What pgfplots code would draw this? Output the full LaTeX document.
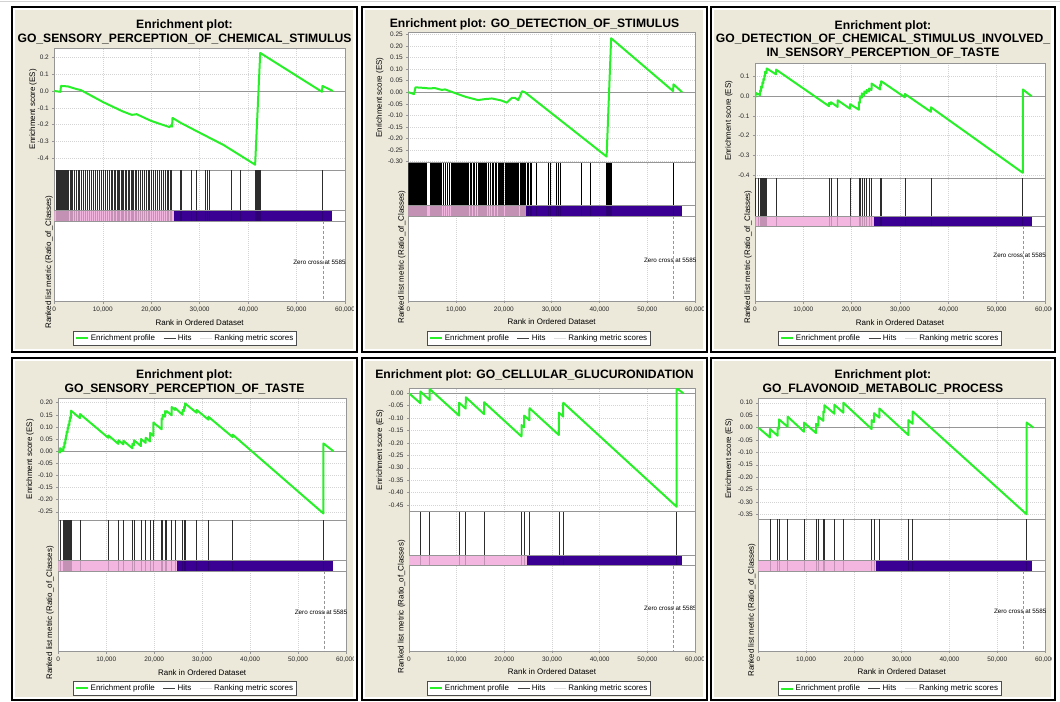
\documentclass[border=0pt]{standalone}
\usepackage{fontspec}
\setmainfont{Liberation Sans}
\usepackage{pgfplots}
\usepackage{pgfplotstable}
\pgfplotsset{compat=1.18}
\definecolor{beige}{RGB}{236,233,218}
\definecolor{esgreen}{RGB}{40,240,40}
\definecolor{barpink}{RGB}{243,182,224}
\definecolor{barpurple}{RGB}{58,0,148}
\definecolor{axgray}{RGB}{150,150,150}
\definecolor{gridgray}{RGB}{212,212,212}
\definecolor{hitgray}{RGB}{45,45,45}

\tikzset{zc/.style={anchor=west, font=\fontsize{6.3}{7}\selectfont, inner sep=0pt}}
\pgfplotsset{
  legend image code/.code={\draw[#1] (0bp,0bp) -- (12bp,0bp);},
  base/.style={
    scale only axis, anchor=south west,
    xmin=0, xmax=60000, scaled ticks=false,
    axis line style={axgray, line width=0.5bp},
    tick style={axgray, line width=0.4bp},
    major tick length=2bp, tick align=outside,
    xtick={0,10000,20000,30000,40000,50000,60000},
    tick pos=left,
    grid=major,
    major grid style={gridgray, line width=0.4bp, dash pattern=on 1bp off 1bp},
    tick label style={font=\fontsize{6.5}{7}\selectfont, text=black!85},
    label style={font=\fontsize{8}{9}\selectfont},
    axis background/.style={fill=white},
  },
  esaxis/.style={base, xticklabels={}, xtick style={draw=none}, ylabel={Enrichment score (ES)}},
  lowaxis/.style={base, ytick=\empty, ymajorgrids=false,
     xticklabels={0,{10,000},{20,000},{30,000},{40,000},{50,000},{60,000}},
     xlabel={Rank in Ordered Dataset},
     xlabel style={at={(axis description cs:0.5,0)}, anchor=center, yshift=-20.5bp},
     ylabel={Ranked list metric (Ratio\_of\_Classes)},
     legend style={draw=black!70, fill=white, font=\fontsize{8}{9}\selectfont, legend columns=3, inner sep=1.3bp, anchor=center,
        /tikz/every even column/.append style={column sep=6bp}},
     legend cell align=left,
  },
  esline/.style={esgreen, line width=2bp, mark=none, line join=round},
  hitline/.style={ycomb, hitgray, line width=0.6bp, mark=none, forget plot},
  hitbar/.style={ycomb, black, opacity=0.2, line width=0.6bp, mark=none, forget plot},
}

% hit positions (rank) for each gene set
\pgfplotstableread[row sep=\\]{r\\350\\600\\750\\900\\1050\\1200\\1350\\1500\\1650\\1800\\2000\\2200\\2400\\2550\\2650\\2750\\2900\\3200\\3500\\3800\\4100\\4500\\4900\\5200\\5600\\6000\\6400\\6800\\7300\\7600\\8000\\8400\\8900\\9300\\9700\\10200\\10600\\11000\\11400\\11700\\12000\\12300\\12600\\12900\\13200\\13500\\13800\\14000\\14300\\14600\\14900\\15200\\15500\\15800\\16100\\16400\\16700\\17000\\17300\\17700\\18100\\18500\\18900\\19300\\19700\\20100\\20500\\20900\\21300\\21700\\22100\\22500\\22900\\23300\\23600\\23900\\24100\\25940\\26280\\28350\\29380\\31100\\31580\\32000\\36600\\38320\\41450\\41550\\41650\\41750\\41850\\41950\\42050\\42150\\42250\\42350\\42450\\55300\\}\hitsA
\pgfplotstableread[row sep=\\]{r\\0\\200\\400\\600\\800\\1000\\1200\\1400\\1600\\1800\\2000\\2400\\2600\\2800\\3000\\3200\\3400\\3600\\3800\\4500\\4700\\4900\\5100\\5300\\5500\\5700\\5900\\6100\\6300\\6500\\6700\\6900\\7400\\7700\\8200\\8600\\9000\\9200\\9400\\9600\\9800\\10100\\10300\\10500\\10700\\10900\\11100\\11300\\11500\\11700\\11900\\12100\\12300\\12500\\12900\\13200\\13500\\13800\\14200\\14600\\14800\\15000\\15200\\15400\\15600\\15800\\16000\\16200\\16400\\16800\\17200\\17500\\17800\\18200\\18500\\18800\\19000\\19200\\19400\\19600\\19800\\20200\\20400\\20600\\20800\\21000\\21200\\21400\\21600\\21800\\22000\\22200\\22400\\22600\\22800\\23000\\23400\\23600\\23800\\24000\\24200\\24400\\24800\\25100\\25450\\25800\\26850\\29300\\29650\\31050\\31400\\31750\\36300\\38000\\41500\\41650\\41800\\41950\\42100\\42250\\42400\\42550\\55500\\}\hitsB
\pgfplotstableread[row sep=\\]{r\\140\\690\\1030\\1240\\1520\\1720\\1930\\2070\\2410\\4350\\15300\\15700\\17100\\19650\\21500\\21700\\22100\\22600\\23100\\23600\\24100\\25900\\26100\\31000\\36400\\55400\\}\hitsC
\pgfplotstableread[row sep=\\]{r\\350\\1040\\1250\\1460\\1600\\1740\\1950\\2090\\2290\\2430\\2640\\4520\\10430\\12520\\13560\\15440\\15780\\17240\\18220\\19120\\19820\\21550\\21760\\22250\\22600\\23640\\24340\\25930\\26210\\26420\\28850\\31290\\36360\\55280\\}\hitsD
\pgfplotstableread[row sep=\\]{r\\2380\\4340\\10500\\11900\\15750\\23600\\24150\\25270\\31430\\32350\\56150\\}\hitsE
\pgfplotstableread[row sep=\\]{r\\2440\\4050\\4330\\6140\\9560\\12070\\12560\\13600\\13810\\15910\\17790\\23720\\24210\\25330\\31400\\32310\\56160\\}\hitsF

\newcommand{\ttl}{\fontsize{12.2}{14}\selectfont\bfseries}

\begin{document}
\begin{tikzpicture}
\useasboundingbox (0bp,0bp) rectangle (1060bp,702bp);
\fill[white] (0bp,0bp) rectangle (1060bp,702bp);
\draw[gray!35, line width=0.8bp] (0bp,700.5bp) -- (1060bp,700.5bp);

% ---------------- Panel 1 ----------------
\begin{scope}
\clip (15bp,353bp) rectangle (353bp,692bp);
\fill[beige] (15bp,353bp) rectangle (353bp,692bp);
\node[anchor=base, font=\ttl] at (184.5bp,673bp) {Enrichment plot:};
\node[anchor=base, font=\ttl] at (184.5bp,659.5bp) {GO\_SENSORY\_PERCEPTION\_OF\_CHEMICAL\_STIMULUS};
\begin{axis}[esaxis, at={(54.3bp,532bp)}, width=290.7bp, height=121.7bp,
  ymin=-0.4695, ymax=0.2535,
  ytick={-0.4,-0.3,-0.2,-0.1,0,0.1,0.2}, yticklabels={-0.4,-0.3,-0.2,-0.1,0.0,0.1,0.2},
  ylabel style={at={(axis description cs:-0.073,0.5)}, anchor=center}]
\draw[axgray, line width=0.6bp] (axis cs:0,0) -- (axis cs:60000,0);
\addplot[esline] coordinates {(0,0) (1250,-0.005) (1380,0.030) (2800,0.027) (4500,0.012) (5500,0.005) (10000,-0.065) (14000,-0.120) (16000,-0.142) (17000,-0.138) (20000,-0.178) (23800,-0.215) (24000,-0.205) (24300,-0.212) (24400,-0.160) (26000,-0.188) (30000,-0.248) (35000,-0.322) (41450,-0.438) (42500,0.226) (55250,-0.005) (55350,0.030) (57500,0.000)};
\end{axis}
\begin{axis}[lowaxis, at={(54.3bp,400.3bp)}, width=290.7bp, height=131.7bp,
  ymin=-91, ymax=40.7,
  ylabel style={at={(axis description cs:-0.018,0.301)}, anchor=center},
  legend style={at={(0.45,-0.279)}}]
\addplot[fill=barpink, draw=none, forget plot] coordinates {(0,-10.3) (24700,-10.3) (24700,0) (0,0)} -- cycle;
\addplot[fill=barpurple, draw=none, forget plot] coordinates {(24700,-10.3) (57300,-10.3) (57300,0) (24700,0)} -- cycle;
\addplot[hitline] table[x=r, y=r, y expr=40.7] {\hitsA};
\addplot[hitbar] table[x=r, y=r, y expr=-10.3] {\hitsA};
\draw[axgray, line width=0.5bp] (axis cs:0,0) -- (axis cs:60000,0);
\draw[axgray, line width=0.5bp] (axis cs:0,-10.3) -- (axis cs:60000,-10.3);
\draw[axgray, densely dashed, line width=0.4bp] (axis cs:55500,-10.3) -- (axis cs:55500,-91);
\node[zc] at (axis cs:49300,-51.6) {Zero cross at 55852};
\addlegendimage{esgreen, line width=2bp}\addlegendentry{Enrichment profile}
\addlegendimage{black!75, line width=0.8bp}\addlegendentry{Hits}
\addlegendimage{gray!25, line width=0.8bp}\addlegendentry{Ranking metric scores}
\end{axis}
\end{scope}
\draw[black, line width=1.8bp] (12bp,350bp) rectangle (357bp,695bp);

% ---------------- Panel 2 ----------------
\begin{scope}
\clip (365bp,353bp) rectangle (703bp,692bp);
\fill[beige] (365bp,353bp) rectangle (703bp,692bp);
\node[anchor=base, font=\ttl] at (534.5bp,674.7bp) {Enrichment plot: GO\_DETECTION\_OF\_STIMULUS};
\begin{axis}[esaxis, at={(408.3bp,539.3bp)}, width=286.7bp, height=130.4bp,
  ymin=-0.3043, ymax=0.2586,
  ytick={-0.30,-0.25,-0.20,-0.15,-0.10,-0.05,0,0.05,0.10,0.15,0.20,0.25},
  yticklabels={-0.30,-0.25,-0.20,-0.15,-0.10,-0.05,0.00,0.05,0.10,0.15,0.20,0.25},
  ylabel style={at={(axis description cs:-0.099,0.5)}, anchor=center}]
\draw[axgray, line width=0.6bp] (axis cs:0,0) -- (axis cs:60000,0);
\addplot[esline] coordinates {(0,0) (1200,-0.008) (1500,0.021) (3000,0.019) (4500,0.016) (5500,0.018) (7000,0.010) (7700,0.012) (9800,-0.004) (12000,-0.020) (14600,-0.034) (16000,-0.030) (17500,-0.027) (19500,-0.036) (20600,-0.045) (21700,-0.024) (22300,-0.024) (23000,-0.034) (23500,-0.012) (23800,0.004) (24400,0.000) (41500,-0.278) (42450,0.233) (55400,0.005) (55500,0.034) (57300,0.000)};
\end{axis}
\begin{axis}[lowaxis, at={(408.3bp,401bp)}, width=286.7bp, height=138.3bp,
  ymin=-96, ymax=42.3,
  ylabel style={at={(axis description cs:-0.023,0.318)}, anchor=center},
  legend style={at={(0.456,-0.271)}}]
\addplot[fill=barpink, draw=none, forget plot] coordinates {(0,-11) (24700,-11) (24700,0) (0,0)} -- cycle;
\addplot[fill=barpurple, draw=none, forget plot] coordinates {(24700,-11) (57250,-11) (57250,0) (24700,0)} -- cycle;
\addplot[hitline, black] table[x=r, y=r, y expr=42.3] {\hitsB};
\addplot[hitbar] table[x=r, y=r, y expr=-11] {\hitsB};
\draw[axgray, line width=0.5bp] (axis cs:0,0) -- (axis cs:60000,0);
\draw[axgray, line width=0.5bp] (axis cs:0,-11) -- (axis cs:60000,-11);
\draw[axgray, densely dashed, line width=0.4bp] (axis cs:55500,-11) -- (axis cs:55500,-96);
\node[zc] at (axis cs:49300,-55) {Zero cross at 55852};
\addlegendimage{esgreen, line width=2bp}\addlegendentry{Enrichment profile}
\addlegendimage{black!75, line width=0.8bp}\addlegendentry{Hits}
\addlegendimage{gray!25, line width=0.8bp}\addlegendentry{Ranking metric scores}
\end{axis}
\end{scope}
\draw[black, line width=1.8bp] (362bp,350bp) rectangle (707bp,695bp);

% ---------------- Panel 3 ----------------
\begin{scope}
\clip (714bp,353bp) rectangle (1051bp,692bp);
\fill[beige] (714bp,353bp) rectangle (1051bp,692bp);
\node[anchor=base, font=\ttl] at (883bp,672.7bp) {Enrichment plot:};
\node[anchor=base, font=\ttl] at (883bp,659.3bp) {GO\_DETECTION\_OF\_CHEMICAL\_STIMULUS\_INVOLVED\_};
\node[anchor=base, font=\ttl] at (883bp,645.3bp) {IN\_SENSORY\_PERCEPTION\_OF\_TASTE};
\begin{axis}[esaxis, at={(755bp,523.7bp)}, width=290bp, height=115bp,
  ymin=-0.417, ymax=0.168,
  ytick={-0.4,-0.3,-0.2,-0.1,0,0.1}, yticklabels={-0.4,-0.3,-0.2,-0.1,0.0,0.1},
  ylabel style={at={(axis description cs:-0.090,0.5)}, anchor=center}]
\draw[axgray, line width=0.6bp] (axis cs:0,0) -- (axis cs:60000,0);
\addplot[esline] coordinates {(0,0) (140,-0.002) (150,0.018) (690,0.009) (700,0.012) (1030,0.006) (1040,0.030) (1240,0.027) (1250,0.050) (1520,0.045) (1530,0.070) (1720,0.067) (1730,0.088) (1930,0.084) (1940,0.105) (2070,0.103) (2080,0.125) (2410,0.119) (2420,0.142) (4350,0.112) (4360,0.136) (15300,-0.050) (15310,-0.034) (15700,-0.041) (15710,-0.030) (17100,-0.054) (17110,-0.020) (19650,-0.063) (19660,-0.040) (21500,-0.068) (21510,-0.030) (21700,-0.033) (21710,0.000) (22100,-0.007) (22110,0.015) (22600,0.007) (22610,0.025) (23100,0.017) (23110,0.032) (23600,0.024) (23610,0.040) (24100,0.032) (24110,0.065) (25900,0.035) (25910,0.060) (26100,0.057) (26110,0.077) (31000,-0.005) (31010,0.012) (36400,-0.079) (36410,-0.056) (55400,-0.389) (55410,0.035) (57250,0.000)};
\end{axis}
\begin{axis}[lowaxis, at={(755bp,400.3bp)}, width=290bp, height=123.4bp,
  ymin=-85.7, ymax=37.7,
  ylabel style={at={(axis description cs:-0.024,0.362)}, anchor=center},
  legend style={at={(0.466,-0.298)}}]
\addplot[fill=barpink, draw=none, forget plot] coordinates {(0,-10) (24700,-10) (24700,0) (0,0)} -- cycle;
\addplot[fill=barpurple, draw=none, forget plot] coordinates {(24700,-10) (57250,-10) (57250,0) (24700,0)} -- cycle;
\addplot[hitline] table[x=r, y=r, y expr=37.7] {\hitsC};
\addplot[hitbar] table[x=r, y=r, y expr=-10] {\hitsC};
\draw[axgray, line width=0.5bp] (axis cs:0,0) -- (axis cs:60000,0);
\draw[axgray, line width=0.5bp] (axis cs:0,-10) -- (axis cs:60000,-10);
\draw[axgray, densely dashed, line width=0.4bp] (axis cs:55500,-10) -- (axis cs:55500,-85.7);
\node[zc] at (axis cs:49300,-39) {Zero cross at 55852};
\addlegendimage{esgreen, line width=2bp}\addlegendentry{Enrichment profile}
\addlegendimage{black!75, line width=0.8bp}\addlegendentry{Hits}
\addlegendimage{gray!25, line width=0.8bp}\addlegendentry{Ranking metric scores}
\end{axis}
\end{scope}
\draw[black, line width=1.8bp] (711bp,350bp) rectangle (1055bp,695bp);

% ---------------- Panel 4 ----------------
\begin{scope}
\clip (15bp,5bp) rectangle (353bp,341bp);
\fill[beige] (15bp,5bp) rectangle (353bp,341bp);
\node[anchor=base, font=\ttl] at (184.5bp,323.7bp) {Enrichment plot:};
\node[anchor=base, font=\ttl] at (184.5bp,309.3bp) {GO\_SENSORY\_PERCEPTION\_OF\_TASTE};
\begin{axis}[esaxis, at={(58.3bp,182bp)}, width=287.7bp, height=121.7bp,
  ymin=-0.284, ymax=0.218,
  ytick={-0.25,-0.20,-0.15,-0.10,-0.05,0,0.05,0.10,0.15,0.20},
  yticklabels={-0.25,-0.20,-0.15,-0.10,-0.05,0.00,0.05,0.10,0.15,0.20},
  ylabel style={at={(axis description cs:-0.098,0.5)}, anchor=center}]
\draw[axgray, line width=0.6bp] (axis cs:0,0) -- (axis cs:60000,0);
\addplot[esline] coordinates {(0,0) (350,-0.006) (360,0.012) (1040,0.000) (1050,0.018) (1250,0.015) (1260,0.035) (1460,0.031) (1470,0.050) (1600,0.048) (1610,0.065) (1740,0.063) (1750,0.080) (1950,0.077) (1960,0.095) (2090,0.093) (2100,0.110) (2290,0.107) (2300,0.125) (2430,0.123) (2440,0.140) (2640,0.137) (2650,0.167) (4520,0.136) (4530,0.153) (10430,0.055) (10440,0.065) (12520,0.030) (12530,0.045) (13560,0.028) (13570,0.043) (15440,0.012) (15450,0.030) (15780,0.024) (15790,0.045) (17240,0.021) (17250,0.050) (18220,0.034) (18230,0.055) (19120,0.040) (19130,0.075) (19820,0.063) (19830,0.118) (21550,0.090) (21560,0.135) (21760,0.132) (21770,0.150) (22250,0.142) (22260,0.165) (22600,0.159) (22610,0.165) (23640,0.148) (23650,0.182) (24340,0.170) (24350,0.178) (25930,0.150) (25940,0.170) (26210,0.165) (26220,0.182) (26420,0.178) (26430,0.197) (28850,0.158) (28860,0.170) (31290,0.130) (31300,0.142) (36360,0.058) (36370,0.068) (55280,-0.257) (55290,0.032) (57360,0.000)};
\end{axis}
\begin{axis}[lowaxis, at={(58.3bp,50.3bp)}, width=287.7bp, height=131.7bp,
  ymin=-91, ymax=40.7,
  ylabel style={at={(axis description cs:-0.029,0.294)}, anchor=center},
  legend style={at={(0.44,-0.279)}}]
\addplot[fill=barpink, draw=none, forget plot] coordinates {(0,-10.3) (24700,-10.3) (24700,0) (0,0)} -- cycle;
\addplot[fill=barpurple, draw=none, forget plot] coordinates {(24700,-10.3) (57250,-10.3) (57250,0) (24700,0)} -- cycle;
\addplot[hitline] table[x=r, y=r, y expr=40.7] {\hitsD};
\addplot[hitbar] table[x=r, y=r, y expr=-10.3] {\hitsD};
\draw[axgray, line width=0.5bp] (axis cs:0,0) -- (axis cs:60000,0);
\draw[axgray, line width=0.5bp] (axis cs:0,-10.3) -- (axis cs:60000,-10.3);
\draw[axgray, densely dashed, line width=0.4bp] (axis cs:55500,-10.3) -- (axis cs:55500,-91);
\node[zc] at (axis cs:49300,-51.6) {Zero cross at 55852};
\addlegendimage{esgreen, line width=2bp}\addlegendentry{Enrichment profile}
\addlegendimage{black!75, line width=0.8bp}\addlegendentry{Hits}
\addlegendimage{gray!25, line width=0.8bp}\addlegendentry{Ranking metric scores}
\end{axis}
\end{scope}
\draw[black, line width=1.8bp] (12bp,2bp) rectangle (357bp,344bp);

% ---------------- Panel 5 ----------------
\begin{scope}
\clip (365bp,5bp) rectangle (703bp,341bp);
\fill[beige] (365bp,5bp) rectangle (703bp,341bp);
\node[anchor=base, font=\ttl] at (534.5bp,323.7bp) {Enrichment plot: GO\_CELLULAR\_GLUCURONIDATION};
\begin{axis}[esaxis, at={(409bp,190.3bp)}, width=286bp, height=123.4bp,
  ymin=-0.477, ymax=0.020,
  ytick={-0.45,-0.40,-0.35,-0.30,-0.25,-0.20,-0.15,-0.10,-0.05,0},
  yticklabels={-0.45,-0.40,-0.35,-0.30,-0.25,-0.20,-0.15,-0.10,-0.05,0.00},
  ylabel style={at={(axis description cs:-0.101,0.5)}, anchor=center}]
\draw[axgray, line width=0.6bp] (axis cs:0,0) -- (axis cs:60000,0);
\addplot[esline] coordinates {(0,0) (2380,-0.040) (2390,0.007) (4340,-0.027) (4350,0.017) (10500,-0.090) (10510,-0.038) (11900,-0.062) (11910,-0.016) (15750,-0.084) (15760,-0.036) (23600,-0.174) (23610,-0.128) (24150,-0.137) (24160,-0.090) (25270,-0.109) (25280,-0.060) (31430,-0.168) (31440,-0.078) (32350,-0.094) (32360,-0.038) (56150,-0.457) (56160,0.020) (57550,0.000)};
\end{axis}
\begin{axis}[lowaxis, at={(409bp,51bp)}, width=286bp, height=139.3bp,
  ymin=-96, ymax=43.3,
  ylabel style={at={(axis description cs:-0.026,0.318)}, anchor=center},
  legend style={at={(0.455,-0.268)}}]
\addplot[fill=barpink, draw=none, forget plot] coordinates {(0,-10.7) (24700,-10.7) (24700,0) (0,0)} -- cycle;
\addplot[fill=barpurple, draw=none, forget plot] coordinates {(24700,-10.7) (57250,-10.7) (57250,0) (24700,0)} -- cycle;
\addplot[hitline] table[x=r, y=r, y expr=43.3] {\hitsE};
\addplot[hitbar] table[x=r, y=r, y expr=-10.7] {\hitsE};
\draw[axgray, line width=0.5bp] (axis cs:0,0) -- (axis cs:60000,0);
\draw[axgray, line width=0.5bp] (axis cs:0,-10.7) -- (axis cs:60000,-10.7);
\draw[axgray, densely dashed, line width=0.4bp] (axis cs:55500,-10.7) -- (axis cs:55500,-96);
\node[zc] at (axis cs:49300,-53.3) {Zero cross at 55852};
\addlegendimage{esgreen, line width=2bp}\addlegendentry{Enrichment profile}
\addlegendimage{black!75, line width=0.8bp}\addlegendentry{Hits}
\addlegendimage{gray!25, line width=0.8bp}\addlegendentry{Ranking metric scores}
\end{axis}
\end{scope}
\draw[black, line width=1.8bp] (362bp,2bp) rectangle (707bp,344bp);

% ---------------- Panel 6 ----------------
\begin{scope}
\clip (714bp,5bp) rectangle (1051bp,341bp);
\fill[beige] (714bp,5bp) rectangle (1051bp,341bp);
\node[anchor=base, font=\ttl] at (883bp,323.7bp) {Enrichment plot:};
\node[anchor=base, font=\ttl] at (883bp,309.3bp) {GO\_FLAVONOID\_METABOLIC\_PROCESS};
\begin{axis}[esaxis, at={(758.3bp,182.7bp)}, width=286.7bp, height=121bp,
  ymin=-0.370, ymax=0.118,
  ytick={-0.35,-0.30,-0.25,-0.20,-0.15,-0.10,-0.05,0,0.05,0.10},
  yticklabels={-0.35,-0.30,-0.25,-0.20,-0.15,-0.10,-0.05,0.00,0.05,0.10},
  ylabel style={at={(axis description cs:-0.102,0.5)}, anchor=center}]
\draw[axgray, line width=0.6bp] (axis cs:0,0) -- (axis cs:60000,0);
\addplot[esline] coordinates {(0,0) (2440,-0.040) (2450,-0.006) (4050,-0.033) (4060,0.000) (4330,-0.005) (4340,0.033) (6140,0.003) (6150,0.044) (9560,-0.017) (9570,0.020) (12070,-0.022) (12080,0.015) (12560,0.007) (12570,0.044) (13600,0.027) (13610,0.065) (13810,0.062) (13820,0.090) (15910,0.056) (15920,0.092) (17790,0.060) (17800,0.100) (23720,-0.006) (23730,0.030) (24210,0.022) (24220,0.058) (25330,0.040) (25340,0.077) (31400,-0.030) (31410,0.030) (32310,0.015) (32320,0.065) (56160,-0.350) (56170,0.020) (57550,0.000)};
\end{axis}
\begin{axis}[lowaxis, at={(758.3bp,51bp)}, width=286.7bp, height=131.7bp,
  ymin=-90.3, ymax=41.4,
  ylabel style={at={(axis description cs:-0.023,0.311)}, anchor=center},
  legend style={at={(0.459,-0.285)}}]
\addplot[fill=barpink, draw=none, forget plot] coordinates {(0,-10.3) (24700,-10.3) (24700,0) (0,0)} -- cycle;
\addplot[fill=barpurple, draw=none, forget plot] coordinates {(24700,-10.3) (57250,-10.3) (57250,0) (24700,0)} -- cycle;
\addplot[hitline] table[x=r, y=r, y expr=41.4] {\hitsF};
\addplot[hitbar] table[x=r, y=r, y expr=-10.3] {\hitsF};
\draw[axgray, line width=0.5bp] (axis cs:0,0) -- (axis cs:60000,0);
\draw[axgray, line width=0.5bp] (axis cs:0,-10.3) -- (axis cs:60000,-10.3);
\draw[axgray, densely dashed, line width=0.4bp] (axis cs:55500,-10.3) -- (axis cs:55500,-90.3);
\node[zc] at (axis cs:49300,-51) {Zero cross at 55852};
\addlegendimage{esgreen, line width=2bp}\addlegendentry{Enrichment profile}
\addlegendimage{black!75, line width=0.8bp}\addlegendentry{Hits}
\addlegendimage{gray!25, line width=0.8bp}\addlegendentry{Ranking metric scores}
\end{axis}
\end{scope}
\draw[black, line width=1.8bp] (711bp,2bp) rectangle (1055bp,344bp);
\end{tikzpicture}
\end{document}
